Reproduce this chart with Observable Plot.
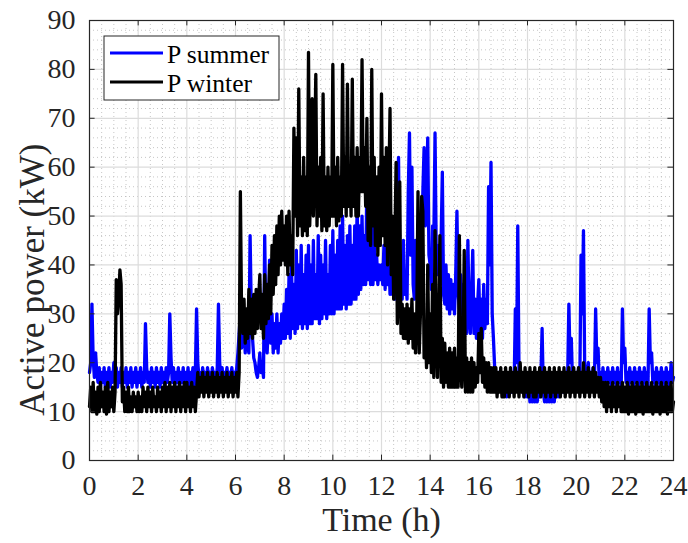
<!DOCTYPE html>
<html>
<head>
<meta charset="utf-8">
<script src="https://cdn.jsdelivr.net/npm/d3@7"></script>
<script src="https://cdn.jsdelivr.net/npm/@observablehq/plot@0.6"></script>
<style>
  html, body { margin: 0; padding: 0; background: #fff; }
  #chart { width: 688px; height: 543px; }
</style>
</head>
<body>
<div id="chart"></div>
<script>
// Sampling interval of the series (hours)
const stepHours = 0.05;

// P summer (kW), one value every 0.05 h from 0 to 24 h (20 values per hour)
const pSummer = [
  18,20,32,21,17,22,18,16,19,15, 18,16,19,15,18,16,19,15,18,16,
  20,17,19,15,18,16,19,15,18,16, 19,15,18,16,19,15,18,16,19,15,
  18,16,19,15,18,16,28,19,16,18, 15,19,16,18,15,19,16,18,15,19,
  16,18,15,19,16,18,30,21,16,19, 15,18,16,19,15,18,16,19,15,18,
  16,19,15,18,16,19,15,18,31,20, 17,18,16,19,17,18,16,19,17,18,
  16,19,17,18,16,19,32,20,17,19, 16,18,17,19,16,18,17,19,16,18,
  17,19,22,26,30,23,25,28,22,30, 24,22,46,30,25,21,20,18,17,19,
  22,18,20,17,46,26,22,28,41,24, 30,22,28,23,30,22,28,24,30,25,
  32,25,35,26,38,25,40,27,36,26, 43,27,40,28,44,27,38,28,42,27,
  44,28,40,28,45,29,38,29,46,28, 42,29,40,30,45,29,38,30,44,30,
  47,30,42,31,45,31,48,31,50,32, 44,31,46,32,48,32,44,33,48,33,
  53,34,48,35,50,36,46,36,58,37, 50,36,54,36,48,37,42,36,40,37,
  40,36,44,35,57,36,42,34,44,34, 48,33,50,45,62,35,40,33,45,34,
  38,33,55,67,42,60,36,33,45,34, 48,35,50,38,55,64,48,55,66,42,
  40,35,48,45,67,42,38,44,36,45, 59,34,32,40,31,38,30,37,31,36,
  30,38,51,34,31,38,30,36,28,35, 26,45,30,26,34,43,26,33,25,32,
  37,26,33,25,36,27,33,28,56,40, 61,30,25,19,17,15,18,15,17,14,
  17,14,18,13,17,14,18,14,17,15, 31,20,48,18,15,17,14,17,13,16,
  13,16,12,15,12,15,12,16,12,15, 13,17,27,14,12,15,12,16,12,15,
  12,16,12,15,13,16,13,17,14,17, 14,18,15,17,32,20,25,16,18,15,
  18,15,19,16,42,30,47,19,16,18, 20,15,18,16,19,16,31,20,23,16,
  18,15,19,16,18,15,19,16,18,15, 19,16,18,15,19,16,18,15,31,20,
  23,16,18,15,19,16,18,15,19,16, 18,15,19,16,18,15,19,16,18,15,
  31,20,22,16,18,15,19,16,18,15, 19,16,18,15,19,16,18,15,20,16,
  17
];

// P winter (kW), one value every 0.05 h from 0 to 24 h (20 values per hour)
const pWinter = [
  11,15,10,16,10,14,9.5,15,10,16, 11,14,10,15,9.5,16,10,14,11,15,
  10,14,37,30,33,39,36,12,15,10, 14,10,15,10,13,10,14,11,13,10,
  14,10,13,10,15,11,14,10,15,11, 14,10,15,11,13,10,15,11,14,10,
  15,11,16,10,15,11,16,10,15,11, 16,10,15,11,16,10,15,11,16,10,
  16,11,15,10,16,11,15,10,14,18, 13,17,14,18,13,17,14,18,13,17,
  14,18,13,17,14,18,13,17,14,18, 13,17,14,18,13,17,14,18,13,17,
  14,18,13,18,55,30,26,33,24,31, 25,35,26,33,25,34,26,35,27,33,
  38,27,34,25,38,28,36,29,40,30, 44,34,46,36,48,38,50,40,51,41,
  48,40,50,38,51,40,46,38,68,50, 66,46,76,48,58,46,62,47,58,46,
  83.5,48,58,74,50,62,79,48,60,50, 62,47,75,48,58,47,60,48,58,50,
  81,50,60,48,62,49,58,50,81,52, 62,50,77,52,60,50,78,52,62,50,
  64,50,62,55,82,55,64,52,70,45, 60,44,80,48,62,44,58,42,60,44,
  75,46,62,44,64,40,55,72,38,50, 33,45,61,28,35,57,26,32,25,31,
  25,32,24,31,25,33,23,30,22,30, 55,22,30,54,51,21,28,19,40,20,
  30,18,36,17,47,26,17,28,46,16, 25,15,24,16,22,15,23,15,22,15,
  23,15,21,15,46,20,15,22,43,14, 21,14,20,14,21,14,20,15,19,16,
  26,18,27,16,21,15,20,14,20,14, 19,14,19,14,19,13,18,14,19,13,
  18,13,19,14,18,13,19,14,18,13, 19,14,18,13,20,14,18,13,19,14,
  18,13,19,14,18,13,19,13,18,14, 19,13,18,14,19,13,18,14,19,13,
  18,14,19,13,18,14,19,13,18,14, 19,13,18,14,19,13,18,14,19,13,
  18,14,19,13,18,14,20,13,18,14, 19,13,18,14,19,13,18,14,17,13,
  17,12,16,11,16,10,16,11,15,10, 16,11,15,10,16,11,15,10,16,10,
  15,10,16,9.5,15,10,16,10,15,9.5, 16,10,15,10,16,9.5,15,10,16,10,
  15,10,16,9.5,15,10,16,10,15,9.5, 16,10,15,10,16,9.5,15,10,16,10,
  12
];

const seriesNames = ["P summer", "P winter"];
const seriesColors = ["#0000ff", "#000000"];
const xTicks = [0,2,4,6,8,10,12,14,16,18,20,22,24];
const yTicks = [0,10,20,30,40,50,60,70,80,90];
const xLabel = "Time (h)";
const yLabel = "Active power (kW)";

const toRows = (arr) => arr.map((p, i) => ({t: +(i * stepHours).toFixed(3), p}));
const summerRows = toRows(pSummer);
const winterRows = toRows(pWinter);

const xMinor = d3.range(0, 24.001, 0.5).filter(v => !xTicks.includes(v));
const yMinor = d3.range(0, 90.001, 2).filter(v => !yTicks.includes(v));
const xMajorInner = xTicks.slice(1, -1);
const yMajorInner = yTicks.slice(1, -1);

const axisColor = "#262626";
const serif = "'Liberation Serif', 'Times New Roman', serif";

const chart = Plot.plot({
  width: 688,
  height: 543,
  marginLeft: 89,
  marginRight: 15,
  marginTop: 20,
  marginBottom: 83,
  style: {fontFamily: serif, background: "#fff", color: axisColor},
  x: {domain: [0, 24], label: null},
  y: {domain: [0, 90], label: null},
  marks: [
    // minor grid (dotted)
    Plot.ruleX(xMinor, {x: d => d, stroke: "#b8b8b8", strokeWidth: 0.8, strokeDasharray: "1,3"}),
    Plot.ruleY(yMinor, {y: d => d, stroke: "#b8b8b8", strokeWidth: 0.8, strokeDasharray: "1,3"}),
    // major grid
    Plot.ruleX(xMajorInner, {x: d => d, stroke: "#dcdcdc", strokeWidth: 1.2}),
    Plot.ruleY(yMajorInner, {y: d => d, stroke: "#dcdcdc", strokeWidth: 1.2}),
    // data
    Plot.line(summerRows, {x: "t", y: "p", stroke: seriesColors[0], strokeWidth: 3.3, strokeLinejoin: "round", strokeLinecap: "round"}),
    Plot.line(winterRows, {x: "t", y: "p", stroke: seriesColors[1], strokeWidth: 3.3, strokeLinejoin: "round", strokeLinecap: "round"}),
    // box
    Plot.frame({stroke: axisColor, strokeWidth: 1.2}),
    // inward ticks on all four sides
    Plot.ruleX(xTicks, {x: d => d, y1: () => 0, y2: () => 1.1, stroke: axisColor, strokeWidth: 1}),
    Plot.ruleX(xTicks, {x: d => d, y1: () => 88.9, y2: () => 90, stroke: axisColor, strokeWidth: 1}),
    Plot.ruleY(yTicks, {y: d => d, x1: () => 0, x2: () => 0.23, stroke: axisColor, strokeWidth: 1}),
    Plot.ruleY(yTicks, {y: d => d, x1: () => 23.77, x2: () => 24, stroke: axisColor, strokeWidth: 1}),
    // axes (labels only)
    Plot.axisX({ticks: xTicks, tickSize: 0, tickPadding: 15, fontSize: 28, fill: axisColor, label: null, tickFormat: d => String(d)}),
    Plot.axisY({ticks: yTicks, tickSize: 0, tickPadding: 14, fontSize: 28, fill: axisColor, label: null, tickFormat: d => String(d)}),
    // axis titles
    Plot.text([xLabel], {frameAnchor: "bottom", dy: 70, fontSize: 34, fill: axisColor, textAnchor: "middle", text: d => d}),
    Plot.text([yLabel], {frameAnchor: "left", y: () => 37, dx: -57, rotate: -90, fontSize: 35, fill: axisColor, textAnchor: "middle", text: d => d})
  ]
});

document.getElementById("chart").appendChild(chart);

// Legend (drawn into the same SVG)
const svg = d3.select(chart);
const lg = svg.append("g").attr("font-family", serif).attr("font-size", 25.6).attr("text-anchor", "start");
lg.append("rect").attr("x", 104).attr("y", 36).attr("width", 175).attr("height", 64)
  .attr("fill", "#fff").attr("stroke", axisColor).attr("stroke-width", 1);
seriesNames.forEach((name, i) => {
  const cy = 53 + i * 29;
  lg.append("line").attr("x1", 110).attr("x2", 163).attr("y1", cy).attr("y2", cy)
    .attr("stroke", seriesColors[i]).attr("stroke-width", 3);
  lg.append("text").attr("x", 167).attr("y", cy + 9.5).attr("fill", "#000").attr("text-anchor", "start").text(name);
});
</script>
</body>
</html>
